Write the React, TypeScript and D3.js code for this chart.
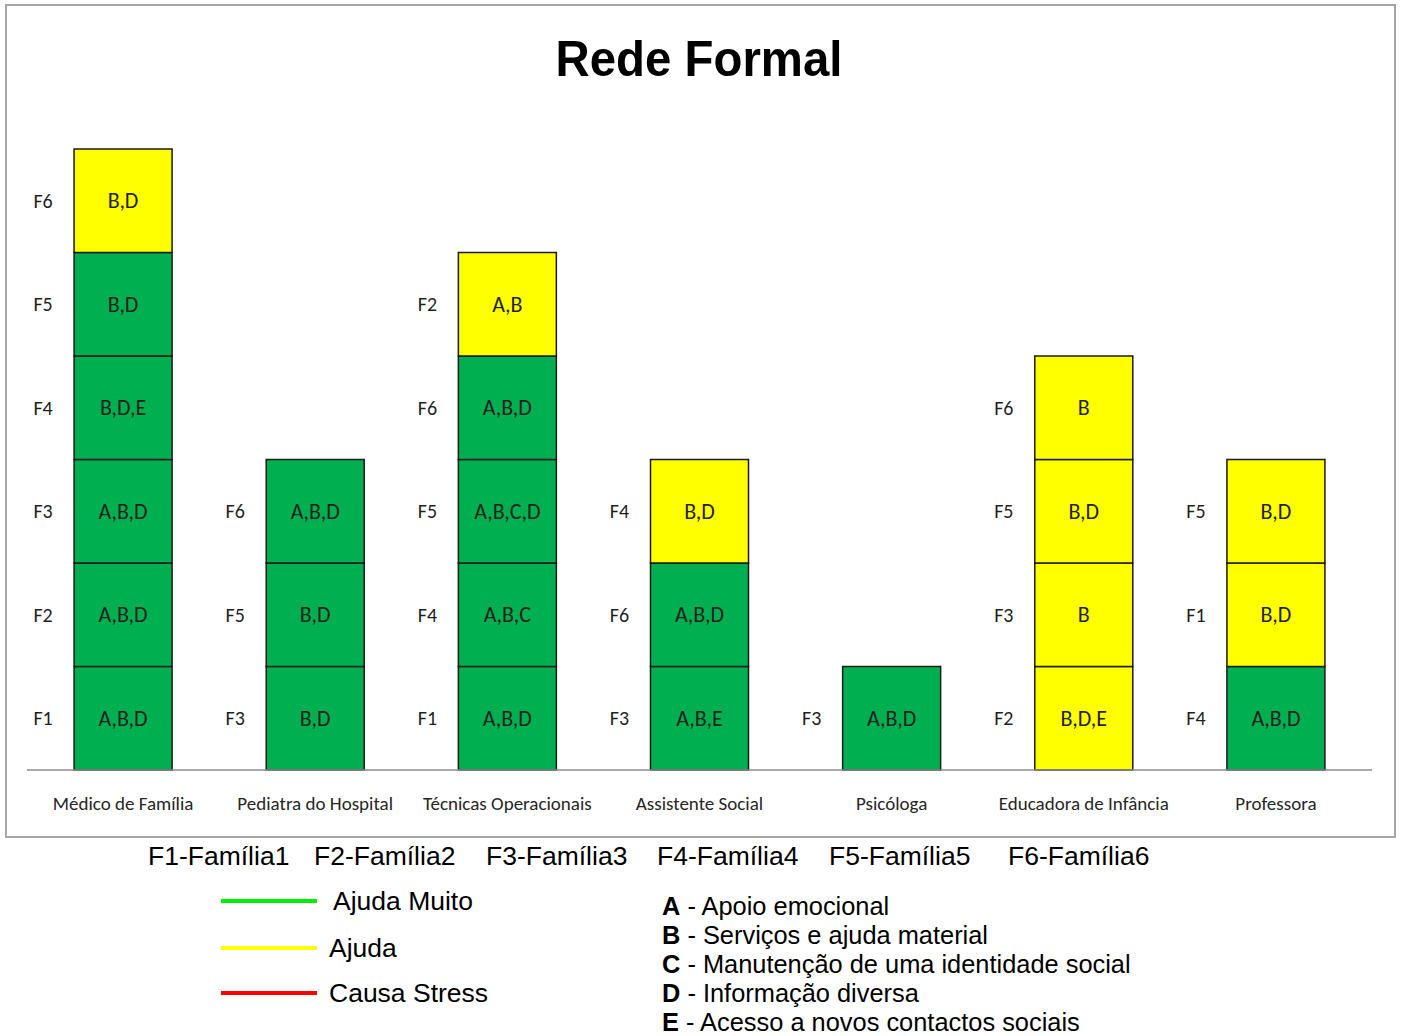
import React from "react";
import * as d3 from "d3";

const categories = [
  "Médico de Família",
  "Pediatra do Hospital",
  "Técnicas Operacionais",
  "Assistente Social",
  "Psicóloga",
  "Educadora de Infância",
  "Professora",
];

// Stacks bottom -> top: [family, support types, level]
const medico = [["F1", "A,B,D", "muito"], ["F2", "A,B,D", "muito"], ["F3", "A,B,D", "muito"], ["F4", "B,D,E", "muito"], ["F5", "B,D", "muito"], ["F6", "B,D", "ajuda"]];
const pediatra = [["F3", "B,D", "muito"], ["F5", "B,D", "muito"], ["F6", "A,B,D", "muito"]];
const tecnicas = [["F1", "A,B,D", "muito"], ["F4", "A,B,C", "muito"], ["F5", "A,B,C,D", "muito"], ["F6", "A,B,D", "muito"], ["F2", "A,B", "ajuda"]];
const assistente = [["F3", "A,B,E", "muito"], ["F6", "A,B,D", "muito"], ["F4", "B,D", "ajuda"]];
const psicologa = [["F3", "A,B,D", "muito"]];
const educadora = [["F2", "B,D,E", "ajuda"], ["F3", "B", "ajuda"], ["F5", "B,D", "ajuda"], ["F6", "B", "ajuda"]];
const professora = [["F4", "A,B,D", "muito"], ["F1", "B,D", "ajuda"], ["F5", "B,D", "ajuda"]];

const stacks = [medico, pediatra, tecnicas, assistente, psicologa, educadora, professora];

const familyLegend = ["F1-Família1", "F2-Família2", "F3-Família3", "F4-Família4", "F5-Família5", "F6-Família6"];
const levelLegend = [["Ajuda Muito", "#00EE00"], ["Ajuda", "#FFFF00"], ["Causa Stress", "#FF0000"]];
const supportLegend = [
  ["A", "Apoio emocional"],
  ["B", "Serviços e ajuda material"],
  ["C", "Manutenção de uma identidade social"],
  ["D", "Informação diversa"],
  ["E", "Acesso a novos contactos sociais"],
];

const fill: Record<string, string> = { muito: "#00B050", ajuda: "#FFFF00" };

export default function App() {
  const x = d3.scaleBand<string>().domain(categories).range([27, 1372]).paddingInner(0.49).paddingOuter(0.245);
  const y = d3.scaleLinear().domain([0, 6]).range([770, 149]);
  const bw = x.bandwidth();
  const font = "Calibri, Carlito, 'Open Sans', 'Liberation Sans', sans-serif";
  const famX = [148, 314, 486, 657, 829, 1008];
  return (
    <svg width={1401} height={1036} style={{ position: "absolute", left: 0, top: 0, background: "#fff" }}>
      <rect x={6} y={5} width={1389} height={832} fill="#fff" stroke="#A6A6A6" strokeWidth={2} />
      <text x={699} y={76} textAnchor="middle" fontFamily="'Liberation Sans', Arial, sans-serif" fontWeight="bold" fontSize={50} textLength={287} lengthAdjust="spacingAndGlyphs" fill="#000">
        Rede Formal
      </text>
      {stacks.map((stack, ci) => {
        const cat = categories[ci];
        const x0 = x(cat)!;
        return (
          <g key={cat}>
            {stack.map((s, i) => {
              const yTop = y(i + 1);
              const yBot = y(i);
              const cy = (yTop + yBot) / 2;
              return (
                <g key={i}>
                  <rect x={x0} y={yTop} width={bw} height={yBot - yTop} fill={fill[s[2]]} stroke="#1a1a1a" strokeWidth={1.5} />
                  <text x={x0 + bw / 2} y={cy} dy="0.35em" textAnchor="middle" fontFamily={font} fontSize={22} fill="#1f1f1f">
                    {s[1]}
                  </text>
                  <text x={x0 - 31} y={cy} dy="0.35em" textAnchor="middle" fontFamily={font} fontSize={20} fill="#1f1f1f">
                    {s[0]}
                  </text>
                </g>
              );
            })}
            <text x={x0 + bw / 2} y={803} dy="0.35em" textAnchor="middle" fontFamily={font} fontSize={19} fill="#262626">
              {cat}
            </text>
          </g>
        );
      })}
      <line x1={27} x2={1372} y1={y(0)} y2={y(0)} stroke="#8C8C8C" strokeWidth={1.5} />
      {familyLegend.map((f, i) => (
        <text key={f} x={famX[i]} y={856} dy="0.35em" fontFamily="'Liberation Sans', Arial, sans-serif" fontSize={26.5} fill="#000">
          {f}
        </text>
      ))}
      {levelLegend.map((l, i) => {
        const yy = [901, 948, 993][i];
        return (
          <g key={l[0]}>
            <line x1={221} x2={317} y1={yy} y2={yy} stroke={l[1]} strokeWidth={4} />
            <text x={i === 0 ? 333 : 329} y={yy} dy="0.35em" fontFamily="'Liberation Sans', Arial, sans-serif" fontSize={26.5} fill="#000">
              {l[0]}
            </text>
          </g>
        );
      })}
      {supportLegend.map((s, i) => {
        const yy = 906 + i * 29;
        return (
          <text key={s[0]} x={662} y={yy} dy="0.35em" fontFamily="'Liberation Sans', Arial, sans-serif" fontSize={25.4} fill="#000">
            <tspan fontWeight="bold">{s[0]}</tspan>
            <tspan> - {s[1]}</tspan>
          </text>
        );
      })}
    </svg>
  );
}
